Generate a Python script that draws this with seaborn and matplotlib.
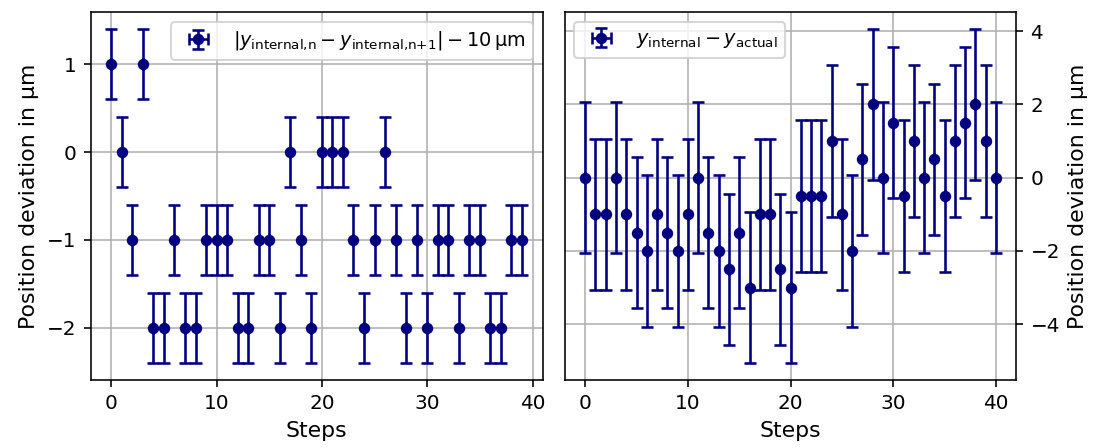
import numpy as np
import matplotlib
matplotlib.use("Agg")
import matplotlib.pyplot as plt
import seaborn as sns

steps_left = list(range(40))
dev_left = [1, 0, -1, 1, -2, -2, -1, -2, -2, -1, -1, -1, -2, -2, -1, -1, -2, 0, -1, -2,
            0, 0, 0, -1, -2, -1, 0, -1, -2, -1, -2, -1, -1, -2, -1, -1, -2, -2, -1, -1]
err_left = 0.4

steps_right = list(range(41))
dev_right = [0, -1, -1, 0, -1, -1.5, -2, -1, -1.5, -2, -1, 0, -1.5, -2, -2.5, -1.5, -3, -1, -1, -2.5,
             -3, -0.5, -0.5, -0.5, 1, -1, -2, 0.5, 2, 0, 1.5, -0.5, 1, 0, 0.5, -0.5, 1, 1.5, 2, 1, 0]
err_right = 2.06

label_left = r"$|y_\text{internal,n} - y_\text{internal,n+1}| - 10\,\mathrm{\mu m}$"
label_right = r"$y_\mathrm{internal} - y_\mathrm{actual}$"

DPI = 144

sns.set_theme(style="ticks", rc={
    "axes.grid": True, "grid.color": "#b0b0b0", "grid.linewidth": 0.8,
    "axes.edgecolor": "black", "axes.linewidth": 0.8,
    "text.color": "black", "axes.labelcolor": "black",
    "xtick.color": "black", "ytick.color": "black",
    "xtick.direction": "out", "ytick.direction": "out",
    "font.size": 10, "axes.labelsize": 11, "xtick.labelsize": 10, "ytick.labelsize": 10,
    "legend.fontsize": 9.6, "legend.frameon": True, "legend.framealpha": 0.8,
    "legend.edgecolor": "0.8", "legend.fancybox": True,
    "axes.facecolor": "white", "figure.facecolor": "white",
    "xtick.major.size": 3.5, "ytick.major.size": 3.5,
    "xtick.major.width": 0.8, "ytick.major.width": 0.8,
})
plt.rcParams["font.family"] = ["DejaVu Sans"]

fig, (ax1, ax2) = plt.subplots(1, 2, figsize=(1093 / DPI, 448 / DPI), dpi=DPI)
fig.subplots_adjust(left=0.083, right=0.930, bottom=0.152, top=0.973, wspace=0.049)

style = dict(fmt="o", color="navy", ms=4.7, capsize=2.9, elinewidth=1.3, capthick=1.3)
ax1.errorbar(steps_left, dev_left, xerr=0, yerr=err_left, label=label_left, **style)
ax2.errorbar(steps_right, dev_right, xerr=0, yerr=err_right, label=label_right, **style)

for ax in (ax1, ax2):
    ax.set_xlabel("Steps")
    ax.set_ylabel("Position deviation in µm")
    ax.set_xticks([0, 10, 20, 30, 40])
    for s in ax.spines.values():
        s.set_visible(True)
        s.set_color("black")

ax1.set_yticks([-2, -1, 0, 1])
ax2.set_yticks([-4, -2, 0, 2, 4])
ax2.yaxis.tick_right()
ax2.yaxis.set_label_position("right")

ax1.legend(loc="upper right")
ax2.legend(loc="upper left")

fig.savefig("out.png", dpi=DPI)
